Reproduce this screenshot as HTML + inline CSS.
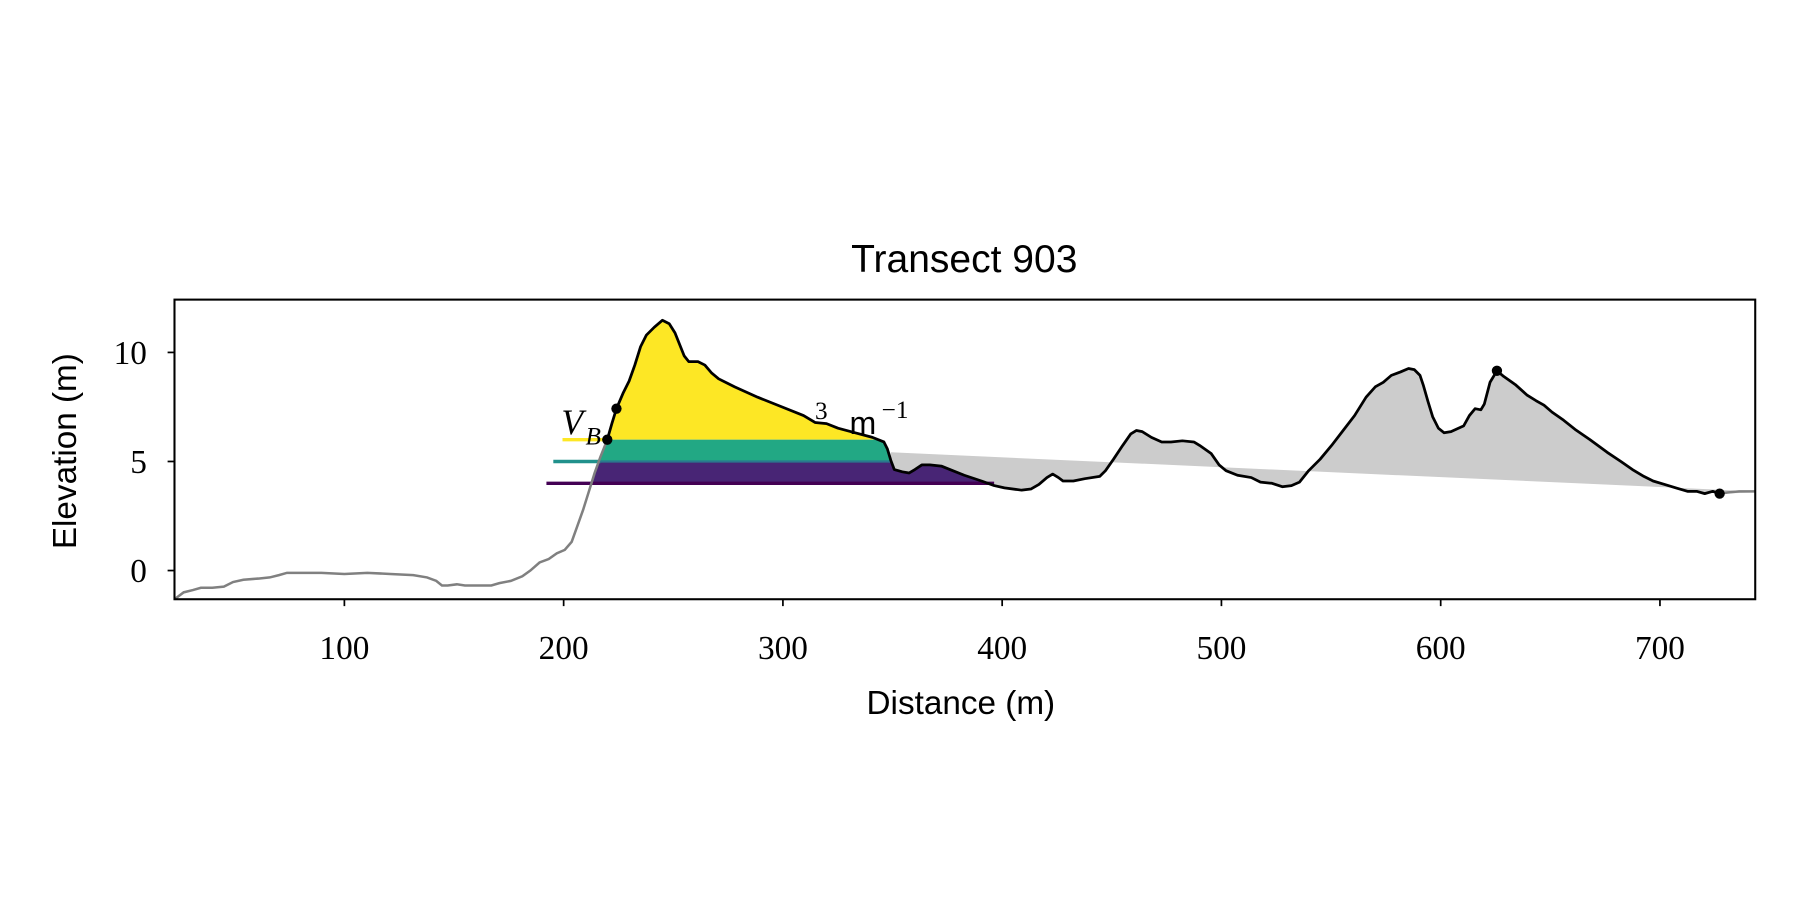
<!DOCTYPE html>
<html><head><style>html,body{margin:0;padding:0;background:#fff}svg{display:block}</style></head><body>
<svg width="1800" height="900" viewBox="0 0 1568 784" xmlns="http://www.w3.org/2000/svg">
<defs>
<clipPath id="under"><polygon points="529,383 533,369 537,356 543,342 548,332 553,318 558,302 563,292 570,285 577,279 583,282 588,290 592,300 596,310 600,315 608,315 614,318 620,325 626,330 640,337 660,346 680,354 700,362 710,368 720,369 730,373 745,377 760,381 770,385 773,391 776,401 779,409 786,411 792,412 797,409 803,405 810,405 820,406 830,410 840,414 855,419 866,423 880,430 880,600 500,600 500,470 503,458 508,444 513,428 518,412 523,398"/></clipPath>
</defs>
<text x="840" y="237" font-family="Liberation Sans, sans-serif" font-size="34" text-anchor="middle">Transect 903</text>
<polygon fill="#cccccc" points="776,394 776,401 779,409 786,411 792,412 797,409 803,405 810,405 820,406 830,410 840,414 855,419 866,423 875,425 890,427 898,426 905,422 912,416 917,413 922,416 926,419 935,419 945,417 958,415 963,410 970,400 978,388 985,378 990,375 995,376 1003,381 1012,385 1020,385 1030,384 1040,385 1045,388 1055,395 1062,405 1068,410 1078,414 1090,416 1098,420 1108,421 1117,424 1125,423 1132,420 1140,410 1150,400 1160,388 1170,375 1180,362 1190,346 1198,337 1205,333 1212,327 1220,324 1227,321 1232,322 1237,327 1240,336 1244,350 1248,363 1253,373 1258,377 1264,376 1275,371 1280,362 1285,356 1290,357 1293,352 1298,333 1304,323 1310,328 1320,335 1330,344 1338,349 1345,353 1352,359 1362,366 1372,374 1385,383 1400,394 1412,402 1422,409 1432,415 1440,419 1450,422 1460,425 1470,428 1478,428 1485,430 1492,428 1498,430 1529,429 1529,428"/>
<g clip-path="url(#under)">
<rect x="510" y="260" width="290" height="123" fill="#fde725"/>
<rect x="505" y="383" width="300" height="19" fill="#22a884"/>
<rect x="500" y="402" width="390" height="19" fill="#482575"/>
</g>
<line x1="490" y1="383" x2="529" y2="383" stroke="#fde725" stroke-width="3"/>
<line x1="482" y1="402" x2="523" y2="402" stroke="#21918c" stroke-width="3"/>
<line x1="476" y1="421" x2="866" y2="421" stroke="#440154" stroke-width="3"/>
<line x1="523" y1="402" x2="776" y2="402" stroke="#2a788e" stroke-width="2"/>
<polyline fill="none" stroke="#808080" stroke-width="2.2" points="152,522 160,516 168,514 175,512 185,512 195,511 203,507 212,505 225,504 235,503 243,501 250,499 260,499 280,499 300,500 320,499 340,500 360,501 372,503 380,506 385,510 390,510 398,509 405,510 420,510 428,510 435,508 445,506 455,502 462,497 470,490 478,487 485,482 492,479 498,472 503,458 508,444 513,428 518,412 523,398 529,383"/>
<polyline fill="none" stroke="#808080" stroke-width="2.2" points="1498,430 1505,429 1515,428 1529,428"/>
<polyline fill="none" stroke="#000" stroke-width="2.4" stroke-linejoin="round" points="529,383 533,369 537,356 543,342 548,332 553,318 558,302 563,292 570,285 577,279 583,282 588,290 592,300 596,310 600,315 608,315 614,318 620,325 626,330 640,337 660,346 680,354 700,362 710,368 720,369 730,373 745,377 760,381 770,385 773,391 776,401 779,409 786,411 792,412 797,409 803,405 810,405 820,406 830,410 840,414 855,419 866,423 875,425 890,427 898,426 905,422 912,416 917,413 922,416 926,419 935,419 945,417 958,415 963,410 970,400 978,388 985,378 990,375 995,376 1003,381 1012,385 1020,385 1030,384 1040,385 1045,388 1055,395 1062,405 1068,410 1078,414 1090,416 1098,420 1108,421 1117,424 1125,423 1132,420 1140,410 1150,400 1160,388 1170,375 1180,362 1190,346 1198,337 1205,333 1212,327 1220,324 1227,321 1232,322 1237,327 1240,336 1244,350 1248,363 1253,373 1258,377 1264,376 1275,371 1280,362 1285,356 1290,357 1293,352 1298,333 1304,323 1310,328 1320,335 1330,344 1338,349 1345,353 1352,359 1362,366 1372,374 1385,383 1400,394 1412,402 1422,409 1432,415 1440,419 1450,422 1460,425 1470,428 1478,428 1485,430 1492,428 1498,430"/>
<g fill="#000"><circle cx="529" cy="383" r="4.5"/><circle cx="537" cy="356" r="4.5"/><circle cx="1304" cy="323" r="4.5"/><circle cx="1498" cy="430" r="4.5"/></g>
<text x="489" y="378" font-family="Liberation Serif, serif" font-style="italic" font-size="31">V</text>
<text x="510" y="387" font-family="Liberation Serif, serif" font-style="italic" font-size="22">B</text>
<text x="710" y="365" font-family="Liberation Serif, serif" font-size="22">3</text>
<text x="740" y="378" font-family="Liberation Sans, sans-serif" font-size="28">m</text>
<text x="768" y="364" font-family="Liberation Serif, serif" font-size="22">−1</text>
<rect x="152" y="261" width="1377" height="261" fill="none" stroke="#000" stroke-width="1.8"/>
<g stroke="#000" stroke-width="1.5">
<line x1="300" y1="522" x2="300" y2="528"/><line x1="491" y1="522" x2="491" y2="528"/><line x1="682" y1="522" x2="682" y2="528"/><line x1="873" y1="522" x2="873" y2="528"/><line x1="1064" y1="522" x2="1064" y2="528"/><line x1="1255" y1="522" x2="1255" y2="528"/><line x1="1446" y1="522" x2="1446" y2="528"/>
<line x1="146" y1="497" x2="152" y2="497"/><line x1="146" y1="402" x2="152" y2="402"/><line x1="146" y1="307" x2="152" y2="307"/>
</g>
<g font-family="Liberation Serif, serif" font-size="29" text-anchor="middle">
<text x="300" y="574">100</text><text x="491" y="574">200</text><text x="682" y="574">300</text><text x="873" y="574">400</text><text x="1064" y="574">500</text><text x="1255" y="574">600</text><text x="1446" y="574">700</text>
</g>
<g font-family="Liberation Serif, serif" font-size="29" text-anchor="end">
<text x="128" y="507">0</text><text x="128" y="412">5</text><text x="128" y="317">10</text>
</g>
<text x="837" y="622" font-family="Liberation Sans, sans-serif" font-size="29" text-anchor="middle">Distance (m)</text>
<text transform="translate(66,393) rotate(-90)" font-family="Liberation Sans, sans-serif" font-size="29" text-anchor="middle">Elevation (m)</text>
</svg>
</body></html>
